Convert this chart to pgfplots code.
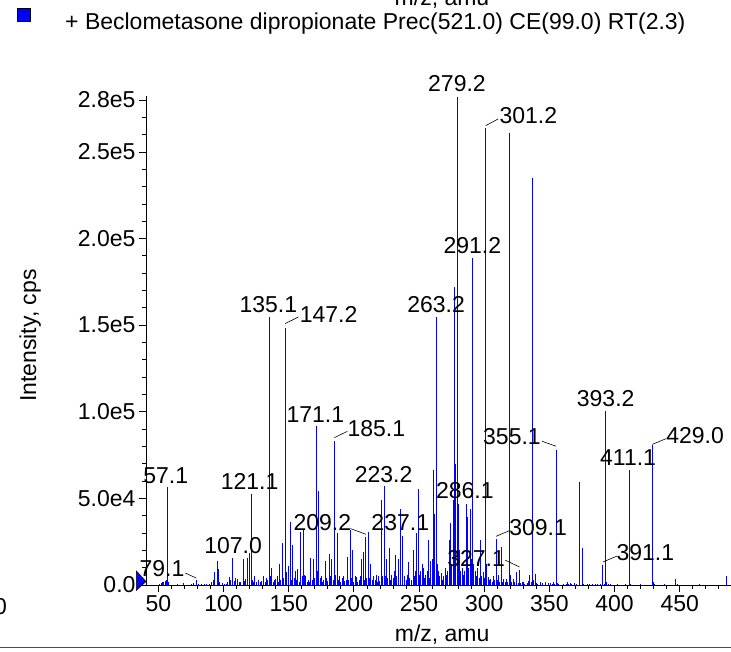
\documentclass[border=0pt]{standalone}
\usepackage{fontspec}
\setmainfont{Liberation Sans}
\usepackage{pgfplots}
\pgfplotsset{compat=1.18}
\definecolor{peakblue}{RGB}{0,0,255}

% spectrum: m/z, intensity (cps)
\pgfplotstableread{
mz intensity
50.5 800
52.0 1200
53.0 1600
54.0 2000
55.1 2300
56.0 3000
57.1 56600
58.0 1800
65.0 400
69.0 1200
75.0 600
77.0 900
79.1 3100
81.0 800
83.0 500
85.0 400
87.0 600
89.0 700
90.4 1500
92.0 3000
93.2 7500
95.0 13700
96.1 9000
97.0 2000
99.0 1000
100.5 600
102.0 800
103.0 1800
104.2 4500
105.1 3000
107.0 15600
108.0 2500
109.3 4000
111.0 3500
112.0 1500
113.0 2000
115.0 15000
116.0 2500
117.0 3500
118.2 15600
119.9 18500
121.1 52400
122.0 3000
123.0 2000
124.0 5000
125.0 1500
127.0 3000
128.0 1500
129.0 2500
131.0 5000
132.0 2000
133.0 4000
134.0 3000
135.1 155000
136.0 5000
137.0 10000
138.0 2000
139.0 3000
140.0 3500
141.0 5000
142.0 2000
143.0 12000
144.0 3000
145.1 24000
146.0 4000
147.2 148600
148.2 7500
149.5 11000
151.1 36400
152.0 3000
153.2 23000
154.2 4000
155.1 8000
156.0 3000
157.0 9500
158.0 2000
159.2 30600
160.2 5000
161.1 31500
162.1 6000
163.0 5000
164.0 2000
165.0 3000
166.0 2000
167.0 15800
168.0 3000
169.1 14800
170.0 4000
171.1 91600
172.0 8000
173.1 54100
174.0 4000
175.1 5000
176.0 2000
177.0 3000
178.1 14000
179.0 4000
180.0 2500
181.1 17700
182.1 5000
183.1 15000
184.0 3000
185.1 83000
186.0 6000
187.1 30300
188.0 3000
189.0 5000
190.0 2000
191.0 4000
192.1 5000
193.0 2500
194.0 3000
195.1 16000
196.0 3000
197.2 32000
198.0 4000
199.2 20000
200.0 2000
201.0 5000
202.3 4500
203.0 2000
204.0 3000
205.0 5000
206.0 15000
207.1 19000
208.0 3000
209.2 27700
210.0 4000
211.2 30600
212.0 4000
213.1 12000
214.0 3000
215.0 5000
216.4 3000
217.0 6000
218.0 2000
219.0 5000
220.0 2500
221.1 49300
222.0 5000
223.2 57000
224.0 5000
225.2 15000
226.0 4000
227.1 21500
228.0 3000
229.0 6000
230.5 4000
231.0 8000
232.1 17300
233.0 5000
234.1 15000
235.6 44000
237.1 28000
239.0 5000
240.0 3000
241.0 6000
242.1 13000
243.0 4000
244.0 3000
245.4 20000
246.1 5000
247.0 8000
248.0 30000
249.2 55600
250.0 6000
251.0 8000
252.3 12000
253.5 10000
254.0 4000
255.0 6000
256.1 8000
257.4 26000
258.0 4000
259.0 14000
260.0 15000
261.2 66500
262.1 41000
263.2 155000
264.1 12000
265.1 8000
266.0 5000
267.1 7000
268.0 3000
269.0 5000
270.2 10000
271.0 6000
272.0 8000
273.1 26000
274.1 35600
275.0 12000
276.1 49000
277.2 172000
278.1 70000
279.2 282000
280.1 47000
281.1 20000
282.0 8000
283.1 10000
284.0 6000
285.0 8000
286.1 47000
287.1 39000
288.0 10000
289.2 44000
290.1 15000
291.2 189000
292.1 12000
293.1 8000
294.1 5000
295.0 10000
296.0 4000
297.2 26000
298.0 5000
299.2 7500
300.1 4000
301.2 264000
302.1 12000
303.2 4500
304.0 3000
305.1 3500
306.0 2000
307.1 5000
308.0 3000
309.1 26800
310.0 3000
311.1 5500
312.0 2000
313.1 22000
314.0 2000
315.1 3500
316.0 1500
317.0 3500
318.0 1500
319.2 261000
320.1 6000
321.0 1500
322.3 3500
323.0 1500
325.0 7500
326.0 1000
327.1 8500
328.0 1000
329.0 1500
330.1 2000
331.0 800
333.0 1000
334.0 2500
335.1 6000
336.0 2000
337.2 235000
338.1 3000
339.1 6500
340.0 1000
341.0 800
343.0 1500
345.0 1000
347.0 1500
349.0 900
351.0 1200
352.0 800
353.0 1500
354.0 800
355.1 78000
356.0 1000
357.0 600
361.0 500
363.0 800
364.0 1500
365.0 700
366.0 1200
367.0 600
369.0 1000
371.0 500
373.1 59500
375.1 21600
376.0 800
379.0 400
381.0 500
383.0 400
385.0 600
387.0 500
389.0 400
391.1 11400
392.0 800
393.2 100500
394.1 1500
395.0 800
397.0 400
402.0 300
408.0 300
411.1 66600
412.0 700
420.0 300
429.0 81000
430.0 1500
431.0 800
438.0 300
447.1 3700
448.0 500
465.0 300
485.8 5400
}\spectrum

\begin{document}
\begin{tikzpicture}[font=\fontsize{23}{27}\selectfont]
\begin{axis}[
    at={(146pt,66pt)}, anchor=south west,
    scale only axis, width=585.3pt, height=489pt,
    xmin=40.5, xmax=489.6,
    ymin=0, ymax=282300,
    axis lines*=left,
    axis line style={-, line width=0.8pt},
    tick pos=left,
    tick align=outside,
    major tick length=7pt, minor tick length=4pt,
    tick style={black, line width=0.8pt},
    xtick={50,100,...,450},
    minor xtick={50,60,...,480},
    ytick={0,50000,100000,150000,200000,250000,280000},
    yticklabels={0.0,5.0e4,1.0e5,1.5e5,2.0e5,2.5e5,2.8e5},
    minor ytick={10000,20000,...,270000},
    scaled y ticks=false,
    /pgf/number format/assume math mode=true,
    tick label style={font=\fontsize{23}{27}\selectfont},
    xlabel={m/z, amu},
    ylabel={Intensity, cps},
    every axis x label/.style={at={(axis description cs:0.506,-0.102)}, anchor=center,
        font=\fontsize{23}{27}\selectfont},
    every axis y label/.style={at={(axis description cs:-0.198,0.51)}, anchor=center,
        rotate=90, font=\fontsize{23}{27}\selectfont},
    clip=false,
]
\addplot[ycomb, no marks, peakblue, line width=0.9pt] table[x=mz, y=intensity] {\spectrum};

% peak labels
\begin{scope}[every node/.style={inner sep=0pt, anchor=center}]
\node at (axis cs:279.1,289400) {279.2};
\node at (axis cs:333.9,271200) {301.2};
\node at (axis cs:290.9,196100) {291.2};
\node at (axis cs:134.4,161800) {135.1};
\node at (axis cs:180.6,156000) {147.2};
\node at (axis cs:170.4,98600) {171.1};
\node at (axis cs:217.2,90300) {185.1};
\node at (axis cs:263.1,161800) {263.2};
\node at (axis cs:393.2,107800) {393.2};
\node at (axis cs:321.3,85500) {355.1};
\node at (axis cs:461.8,86000) {429.0};
\node at (axis cs:410.4,73400) {411.1};
\node at (axis cs:341.4,33000) {309.1};
\node at (axis cs:423.6,18900) {391.1};
\node at (axis cs:293.8,15500) {327.1};
\node at (axis cs:285.1,54400) {286.1};
\node at (axis cs:235.6,35900) {237.1};
\node at (axis cs:175.8,35900) {209.2};
\node at (axis cs:222.8,63900) {223.2};
\node at (axis cs:120.0,59700) {121.1};
\node at (axis cs:55.6,63000) {57.1};
\node at (axis cs:107.3,22500) {107.0};
\node at (axis cs:52.8,9200) {79.1};
\end{scope}

% leader lines
\begin{scope}[black, line width=0.6pt]
\draw (axis cs:301.2,265200) -- (axis cs:310.8,269100);
\draw (axis cs:147.2,150900) -- (axis cs:157.4,154700);
\draw (axis cs:185.1,85100) -- (axis cs:195.0,88700);
\draw (axis cs:355.1,80100) -- (axis cs:344.4,83000);
\draw (axis cs:429.0,81200) -- (axis cs:439.7,84500);
\draw (axis cs:309.1,28100) -- (axis cs:320.0,31600);
\draw (axis cs:391.1,13300) -- (axis cs:401.9,16700);
\draw (axis cs:327.1,10400) -- (axis cs:316.2,14300);
\draw (axis cs:209.2,29300) -- (axis cs:197.3,32600);
\draw (axis cs:79.1,4000) -- (axis cs:70.7,6900);
\end{scope}

% marker at the origin
\filldraw[fill=peakblue, draw=black, line width=0.5pt]
    (axis cs:33.1,8100) -- (axis cs:40.5,2000) -- (axis cs:33.1,-3100) -- cycle;
\end{axis}

% legend
\filldraw[fill=peakblue, draw=black, line width=0.5pt] (17pt,630pt) rectangle (30pt,643pt);
\node[anchor=base west, inner sep=0pt] at (65pt,621.5pt)
    {+ Beclometasone dipropionate Prec(521.0) CE(99.0) RT(2.3)};

% edges of the neighbouring panels, cut by the page
\node[anchor=base, inner sep=0pt] at (442pt,645pt) {m/z, amu};
\node[anchor=north east, inner sep=0pt] at (7pt,53pt) {0};
\draw[black!70, line width=1pt] (0pt,4pt) -- (731pt,4pt);

\pgfresetboundingbox
\useasboundingbox (0pt,0pt) rectangle (731pt,651pt);
\end{tikzpicture}
\end{document}
